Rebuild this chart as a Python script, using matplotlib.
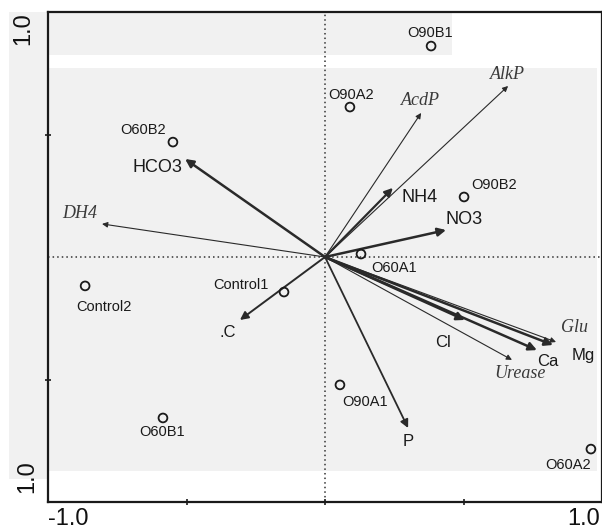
import matplotlib
matplotlib.use("Agg")
import matplotlib.pyplot as plt
from matplotlib.patches import Rectangle

W, H = 602, 530

# Sample scores
samples = ["O90B1", "O90A2", "O60B2", "O90B2", "O60A1",
           "Control1", "Control2", "O60B1", "O90A1", "O60A2"]
sample_x = [0.383, 0.090, -0.549, 0.502, 0.130,
            -0.148, -0.866, -0.585, 0.054, 0.960]
sample_y = [0.861, 0.612, 0.469, 0.245, 0.012,
            -0.143, -0.118, -0.657, -0.522, -0.784]

# Environmental / enzyme vectors
variables = ["HCO3", "DH4", "AcdP", "AlkP", "NH4", "NO3", ".C",
             "P", "Cl", "Ca", "Mg", "Glu", "Urease"]
var_x = [-0.505, -0.805, 0.347, 0.661, 0.245, 0.437, -0.307,
         0.300, 0.505, 0.765, 0.823, 0.834, 0.675]
var_y = [0.400, 0.135, 0.588, 0.698, 0.282, 0.110, -0.257,
         -0.698, -0.257, -0.380, -0.359, -0.347, -0.420]

# label placement (offset in pixels from the mark)
sample_offsets = {
    "O90B1": (-1, 13), "O90A2": (1, 12), "O60B2": (-30, 12),
    "O90B2": (30, 12), "O60A1": (33, -14), "Control1": (-43, 7),
    "Control2": (19, -21), "O60B1": (-1, -14), "O90A1": (25, -17),
    "O60A2": (-23, -16),
}
var_offsets = {
    "HCO3": (-28, -8), "DH4": (-22, 10), "AcdP": (-1, 12), "AlkP": (-1, 11),
    "NH4": (27, -10), "NO3": (18, 11), ".C": (-12, -13), "P": (0, -13),
    "Cl": (-22, -23), "Ca": (11, -11), "Mg": (30, -11), "Glu": (18, 15),
    "Urease": (8, -14),
}
enzymes = {"DH4", "AcdP", "AlkP", "Glu", "Urease"}
big_labels = {"HCO3", "NH4", "NO3"}
thick = {"HCO3": 1.8, ".C": 1.4, "NH4": 1.6, "NO3": 1.8, "P": 1.3,
         "Cl": 1.8, "Ca": 1.8, "Mg": 1.8}


def fx(x):
    return x / W


def fy(y):
    return 1 - y / H


fig = plt.figure(figsize=(W / 100, H / 100), dpi=100)
fig.patch.set_facecolor("white")

# light grey paper regions
grey = "#f1f1f1"
for (x0, y0, x1, y1) in [(9, 12, 47, 479), (47, 12, 452, 55), (47, 68, 597, 471)]:
    fig.patches.append(Rectangle((fx(x0), fy(y1)), fx(x1 - x0), (y1 - y0) / H,
                                 transform=fig.transFigure, facecolor=grey,
                                 edgecolor="none", zorder=-5))

ax = fig.add_axes([fx(48), fy(502), fx(602 - 48), (502 - 12) / H])
ax.set_zorder(2)
ax.set_facecolor("none")
ax.set_xlim(-1, 1)
ax.set_ylim(-1, 1)

for s in ax.spines.values():
    s.set_color("#1a1a1a")
    s.set_linewidth(1.6)

ax.set_xticks([-0.5, 0, 0.5])
ax.set_yticks([-0.5, 0.5])
ax.tick_params(direction="inout", length=5, width=1.2, color="#1a1a1a",
               labelbottom=False, labelleft=False)

ax.axhline(0, color="#333333", lw=1.1, ls=(0, (1, 2)), zorder=1)
ax.axvline(0, color="#333333", lw=1.1, ls=(0, (1, 2)), zorder=1)

# vectors
for name, vx, vy in zip(variables, var_x, var_y):
    lw = thick.get(name, 0.8)
    ms = 12 if name in thick else 8
    ax.annotate("", xy=(vx, vy), xytext=(0, 0),
                arrowprops=dict(arrowstyle="-|>", lw=lw, color="#2a2a2a",
                                mutation_scale=ms, shrinkA=0, shrinkB=0),
                zorder=3)
    dx, dy = var_offsets[name]
    if name in enzymes:
        kw = dict(family="Liberation Serif", style="italic", fontsize=13,
                  color="#3a3a3a")
    else:
        kw = dict(family="Liberation Sans", fontsize=13 if name in big_labels else 12,
                  color="#1a1a1a")
    ax.annotate(name, xy=(vx, vy), xytext=(dx, dy), textcoords="offset pixels",
                ha="center", va="center", zorder=4, **kw)

# samples
ax.scatter(sample_x, sample_y, s=40, facecolors="none", edgecolors="#1a1a1a",
           linewidths=1.3, zorder=5)
for name, sx, sy in zip(samples, sample_x, sample_y):
    dx, dy = sample_offsets[name]
    ax.annotate(name, xy=(sx, sy), xytext=(dx, dy), textcoords="offset pixels",
                ha="center", va="center", family="Liberation Sans",
                fontsize=10.5, color="#1a1a1a", zorder=5)

# axis end labels
lab = dict(family="Liberation Sans", fontsize=17, color="#111111")
fig.text(fx(68), fy(519), "-1.0", ha="center", va="center", **lab)
fig.text(fx(584), fy(519), "1.0", ha="center", va="center", **lab)
fig.text(fx(23), fy(29), "1.0", ha="center", va="center", rotation=90, **lab)
fig.text(fx(27), fy(477), "1.0", ha="center", va="center", rotation=90, **lab)

fig.savefig("out.png", dpi=100, facecolor="white")
